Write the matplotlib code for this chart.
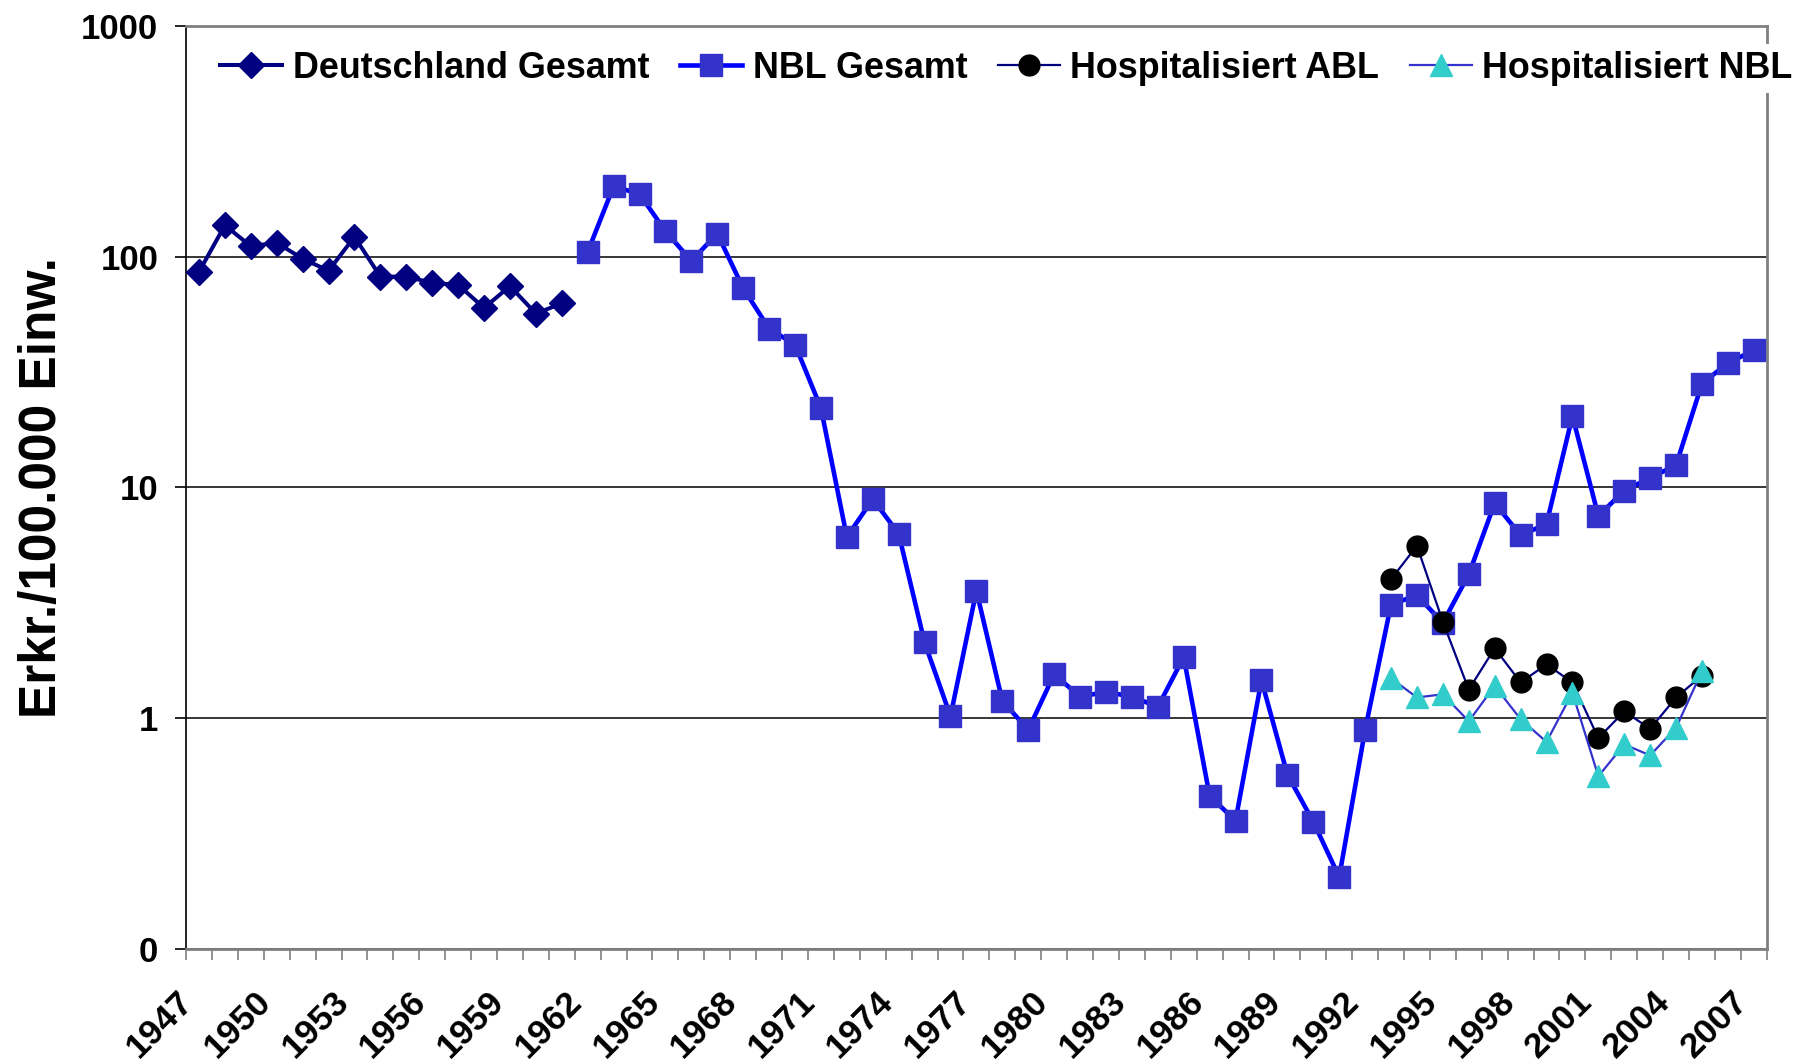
# -*- coding: utf-8 -*-

import numpy as np
import matplotlib
matplotlib.use('Agg')
import matplotlib.pyplot as plt
from matplotlib.transforms import ScaledTranslation
from matplotlib.ticker import FixedLocator, NullFormatter

plt.rcParams['font.family'] = ['Liberation Sans', 'DejaVu Sans']
plt.rcParams['font.weight'] = 'bold'

# Deutschland Gesamt 1947-1961
years_de = list(range(1947, 1962))
de_total = [86, 137, 111, 115, 98, 87, 122, 82, 82, 77, 75.5, 60, 74.6, 56.7, 62.8]

# NBL Gesamt 1962-2007
years_nbl = list(range(1962, 2008))
nbl_total = [105, 202, 187, 129, 96, 126, 73, 48.8, 41.6, 22.1,
             6.1, 8.9, 6.3, 2.13, 1.02, 3.57, 1.19, 0.89, 1.55, 1.24,
             1.30, 1.24, 1.12, 1.84, 0.46, 0.36, 1.46, 0.57, 0.356, 0.205,
             0.89, 3.11, 3.41, 2.59, 4.2, 8.55, 6.2, 6.95, 20.4, 7.53,
             9.69, 11.0, 12.5, 28.2, 34.6, 39.3]

# hospitalised cases 1993-2005
years_hosp = list(range(1993, 2006))
hosp_abl = [4.0, 5.59, 2.62, 1.33, 2.01, 1.43, 1.71, 1.43, 0.82, 1.07, 0.90, 1.23, 1.53]
hosp_nbl = [1.49, 1.23, 1.27, 0.97, 1.38, 0.99, 0.79, 1.29, 0.56, 0.77, 0.69, 0.91, 1.6]

label_years = list(range(1947, 2008, 3))
ytick_vals = [0.1, 1, 10, 100, 1000]
ytick_text = ['0', '1', '10', '100', '1000']

fig = plt.figure(figsize=(18.01, 10.61), dpi=100)
ax = fig.add_axes([0.1033, 0.1056, 0.8777, 0.8699])

ax.plot(years_de, de_total, color='#000080', lw=2.9, marker='D', ms=13,
        mfc='#000080', mec='#000080', label='Deutschland Gesamt', zorder=3)
ax.plot(years_nbl, nbl_total, color='#0000FF', lw=3.3, marker='s', ms=16,
        mfc='#3333CC', mec='#3333CC', label='NBL Gesamt', zorder=3)
ax.plot(years_hosp, hosp_abl, color='#000080', lw=1.6, marker='o', ms=15,
        mfc='black', mec='black', label='Hospitalisiert ABL', zorder=4)
ax.plot(years_hosp, hosp_nbl, color='#3333CC', lw=1.6, marker='^', ms=16,
        mfc='#33CCCC', mec='#33CCCC', label='Hospitalisiert NBL', zorder=5)

ax.set_yscale('log')
ax.set_ylim(0.1, 1000)
ax.set_yticks(ytick_vals)
ax.set_yticklabels(ytick_text)
ax.yaxis.set_minor_locator(FixedLocator([]))
ax.yaxis.set_minor_formatter(NullFormatter())
ax.grid(axis='y', which='major', color='black', lw=1.1)
ax.tick_params(axis='y', which='major', length=8, width=1.2, pad=12,
               labelsize=25, color='black')

ax.set_xlim(1946.5, 2007.5)
ax.set_xticks(label_years)
ax.set_xticklabels([str(y) for y in label_years], rotation=45, ha='right',
                   rotation_mode='anchor', va='center')
ax.xaxis.set_minor_locator(FixedLocator(np.arange(1946.5, 2008, 1.0)))
ax.tick_params(axis='x', which='major', length=0, pad=34, labelsize=25.5)
ax.tick_params(axis='x', which='minor', length=8, width=1.2, color='#808080')
shift = ScaledTranslation(-8 / 72, 0, fig.dpi_scale_trans)
for lbl in ax.get_xticklabels():
    lbl.set_transform(lbl.get_transform() + shift)

for s in ['top', 'right', 'bottom']:
    ax.spines[s].set_color('#808080')
    ax.spines[s].set_linewidth(2)
ax.spines['left'].set_color('black')
ax.spines['left'].set_linewidth(1.2)

ax.set_ylabel('Erkr./100.000 Einw.', fontsize=37, fontweight='bold')
ax.yaxis.set_label_coords(-0.075, 0.5)

leg = ax.legend(loc='center left', bbox_to_anchor=(0.017, 0.954), ncol=4,
                prop={'weight': 'bold', 'size': 25.8}, frameon=True,
                facecolor='white', edgecolor='none', framealpha=1,
                handlelength=1.73, handletextpad=0.3, columnspacing=0.85,
                borderpad=0.2, borderaxespad=0, markerscale=1.0)
leg.set_zorder(10)

fig.savefig('out.png', dpi=100)
